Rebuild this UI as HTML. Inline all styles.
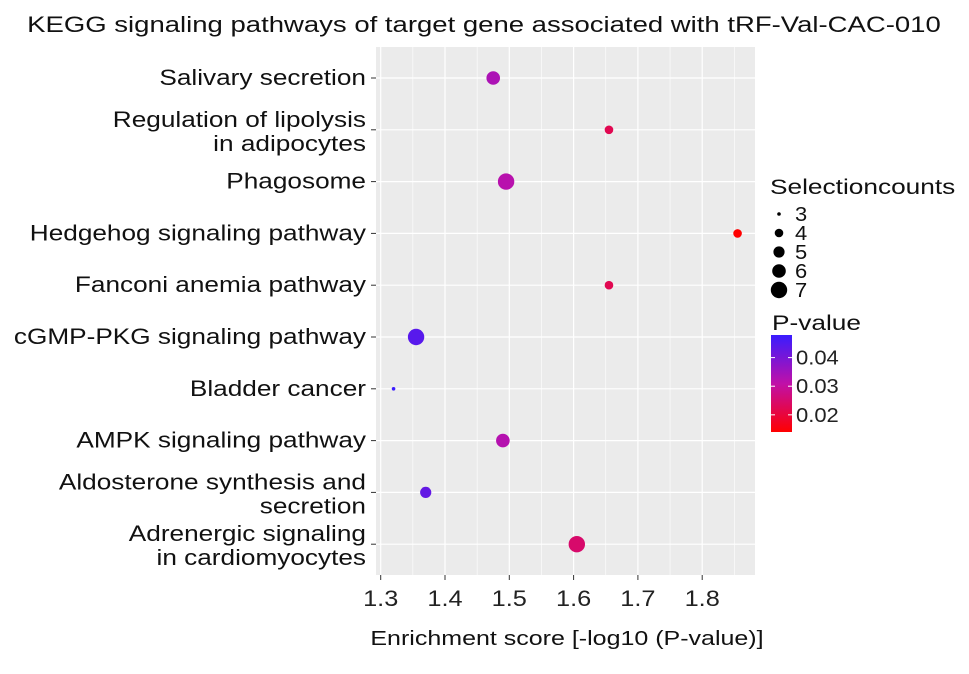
<!DOCTYPE html>
<html><head><meta charset="utf-8"><style>
body{margin:0;background:#fff;font-family:"Liberation Sans",sans-serif;}
</style></head><body>
<svg id="chart" width="969" height="669" style="font-family:'Liberation Sans',sans-serif">
<defs><linearGradient id="pg" x1="0" y1="0" x2="0" y2="1">
<stop offset="0" stop-color="#3a1cff"/><stop offset="0.5" stop-color="#c010a8"/><stop offset="1" stop-color="#ff0000"/></linearGradient></defs>
<text class="st" x="484" y="32" text-anchor="middle" font-size="22" fill="#111">KEGG signaling pathways of target gene associated with tRF-Val-CAC-010</text>
<rect x="376" y="47" width="379" height="528" fill="#ebebeb"/>
<g id="grid"></g><g id="ylab"></g><g id="xlab"></g><g id="pts"></g>
<text class="st" x="567" y="645" text-anchor="middle" font-size="20" fill="#111">Enrichment score [-log10 (P-value)]</text>
<text class="st" x="770" y="194" font-size="21" fill="#111">Selectioncounts</text>
<g id="sleg"></g>
<text class="st" x="772" y="330" font-size="21" fill="#111">P-value</text>
<rect x="771" y="335" width="21" height="97" fill="url(#pg)"/>
<g id="cleg"></g>
</svg>
<script>
const categories=["Salivary secretion","Regulation of lipolysis|in adipocytes","Phagosome","Hedgehog signaling pathway","Fanconi anemia pathway","cGMP-PKG signaling pathway","Bladder cancer","AMPK signaling pathway","Aldosterone synthesis and|secretion","Adrenergic signaling|in cardiomyocytes"];
const scores=[1.475,1.655,1.495,1.855,1.655,1.355,1.32,1.49,1.37,1.605];
const counts=[6,4,7,4,4,7,3,6,5,7];
const xTicks=[1.3,1.4,1.5,1.6,1.7,1.8];
const sizeLegend=[3,4,5,6,7];
const pTicks=[0.04,0.03,0.02];
const NS="http://www.w3.org/2000/svg";
function mk(t,a,p){const e=document.createElementNS(NS,t);for(const k in a)e.setAttribute(k,a[k]);p.appendChild(e);return e;}
function stretch(el,f){f=f||1.25;const w=el.getComputedTextLength();el.setAttribute('textLength',(w*f).toFixed(1));el.setAttribute('lengthAdjust','spacingAndGlyphs');}
const xs=v=>380.7+(v-1.3)*643;
const ys=i=>78+i*51.8;
const rs=c=>({3:1.8,4:4.3,5:5.6,6:6.8,7:8.2})[c];
const pmin=0.0140,pmax=0.0479;
function col(p){let t=(p-pmin)/(pmax-pmin);t=Math.max(0,Math.min(1,t));
 const a=[255,0,0],m=[192,16,168],b=[58,28,255];let c;
 if(t<0.5){const u=t*2;c=a.map((v,i)=>v+(m[i]-v)*u);}else{const u=(t-0.5)*2;c=m.map((v,i)=>v+(b[i]-v)*u);}
 return `rgb(${c.map(Math.round).join(',')})`;}
const grid=document.getElementById('grid');
xTicks.forEach(t=>{[t-0.05,t].forEach((v,j)=>{const x=xs(v);if(x<376)return;const l=mk('line',{x1:x,x2:x,y1:47,y2:575,stroke:'#fff','stroke-width':j?1.2:0.6},grid);});});
{const x=xs(1.85);mk('line',{x1:x,x2:x,y1:47,y2:575,stroke:'#fff','stroke-width':0.6},grid);}
categories.forEach((c,i)=>{const y=ys(i);const l=mk('line',{x1:376,x2:755,y1:y,y2:y,stroke:'#fff','stroke-width':1.2},grid);
 mk('line',{x1:371,x2:376,y1:y,y2:y,stroke:'#333','stroke-width':1},grid);
 const parts=c.split('|');const tx=mk('text',{x:366,'text-anchor':'end','font-size':22,fill:'#111'},document.getElementById('ylab'));
 
 parts.forEach((p,k)=>{const ts=mk('tspan',{x:366,y:parts.length>1?y-3+(k)*24:y+7},tx);ts.textContent=p;stretch(ts,1.19);});
});
xTicks.forEach(t=>{const x=xs(t);mk('line',{x1:x,x2:x,y1:575,y2:580,stroke:'#333','stroke-width':1},grid);
 const tx=mk('text',{x:x,y:606,'text-anchor':'middle','font-size':22,fill:'#222'},document.getElementById('xlab'));
 tx.textContent=t.toFixed(1);stretch(tx,1.15);});
const pts=document.getElementById('pts');
scores.forEach((s,i)=>{const c=mk('circle',{cx:xs(s),cy:ys(i),r:rs(counts[i]),fill:col(Math.pow(10,-s))},pts);
 });
const sl=document.getElementById('sleg');
sizeLegend.forEach((v,i)=>{const y=214+i*19;const c=mk('circle',{cx:779,cy:y,r:rs(v),fill:'#000'},sl);
 
 const t=mk('text',{x:795,y:y+7,'font-size':20,fill:'#111'},sl);t.textContent=v;stretch(t,1.1);});
const cl=document.getElementById('cleg');
pTicks.forEach(p=>{const y=335+(pmax-p)/(pmax-pmin)*97;
 mk('line',{x1:771,x2:775,y1:y,y2:y,stroke:'#fff'},cl);mk('line',{x1:788,x2:792,y1:y,y2:y,stroke:'#fff'},cl);
 const t=mk('text',{x:796,y:y+7,'font-size':20,fill:'#222'},cl);t.textContent=p.toFixed(2);stretch(t,1.1);});
document.querySelectorAll('.st').forEach(el=>stretch(el,1.25));
</script>
</body></html>
